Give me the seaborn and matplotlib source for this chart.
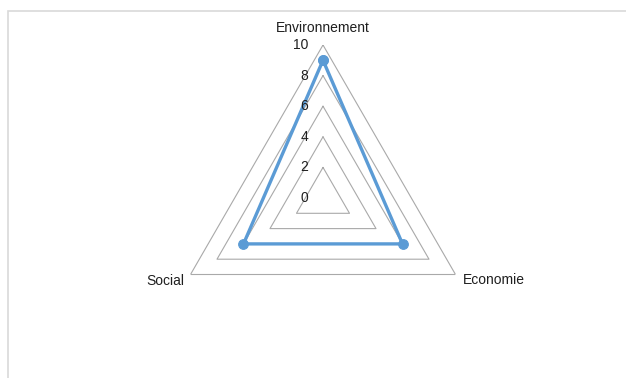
import numpy as np
import pandas as pd
import matplotlib
matplotlib.use("Agg")
import matplotlib.pyplot as plt
from matplotlib.patches import Rectangle
import seaborn as sns

categories = ["Environnement", "Economie", "Social"]
values = [9, 6, 6]
levels = [0, 2, 4, 6, 8, 10]
tick_labels = ["0", "2", "4", "6", "8", "10"]

sns.set_theme(style="white")
plt.rcParams["font.family"] = ["Liberation Sans", "DejaVu Sans"]

W, H = 626, 378
fig = plt.figure(figsize=(W / 100, H / 100), dpi=100)
fig.patch.set_facecolor("white")

cx, cy, R = 323, 198, 153
ax = fig.add_axes([(cx - R) / W, (H - cy - R) / H, 2 * R / W, 2 * R / H], projection="polar")
ax.set_theta_offset(np.pi / 2)
ax.set_theta_direction(-1)

n = len(categories)
angles = [2 * np.pi * i / n for i in range(n)]
closed_angles = angles + [2 * np.pi]

# polygon gridlines
for lv in levels[1:]:
    ax.plot(closed_angles, [lv] * (n + 1), color="#a9a9a9", lw=0.8, zorder=1)

df = pd.DataFrame({"angle": closed_angles, "value": values + values[:1]})
sns.lineplot(data=df, x="angle", y="value", ax=ax, sort=False, color="#5B9BD5",
             lw=2.4, marker="o", markersize=7, markeredgecolor="#5B9BD5", zorder=3)

ax.set_ylim(0, 10)
ax.set_xticks([])
ax.set_yticks([])
ax.grid(False)
ax.spines["polar"].set_visible(False)
ax.set_xlabel("")
ax.set_ylabel("")
ax.set_facecolor("none")

# radial tick labels
for lv, lab in zip(levels, tick_labels):
    ax.annotate(lab, xy=(0, lv), xytext=(-15, 0), textcoords="offset pixels",
                ha="right", va="center", fontsize=10, color="#1f1f1f", annotation_clip=False)

# category labels
offsets = [((0, 17), "center", "center"), ((7, -6), "left", "center"), ((-6, -6), "right", "center")]
for ang, cat, (off, ha, va) in zip(angles, categories, offsets):
    ax.annotate(cat, xy=(ang, 10), xytext=off, textcoords="offset pixels",
                ha=ha, va=va, fontsize=10, color="#1f1f1f", annotation_clip=False)

fig.patches.append(Rectangle((8 / W, -0.1), 1.0, (H - 11) / H + 0.1, transform=fig.transFigure,
                             fill=False, edgecolor="#d9d9d9", lw=1.2))

fig.savefig("out.png", dpi=100)
